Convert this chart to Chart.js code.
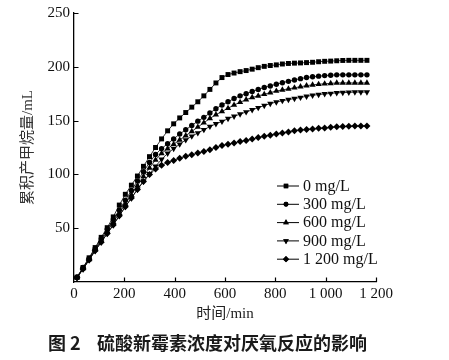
<!DOCTYPE html>
<html>
<head>
<meta charset="utf-8">
<script src="https://cdn.jsdelivr.net/npm/chart.js@4.4.0/dist/chart.umd.min.js"></script>
<style>
  html, body { margin: 0; padding: 0; background: #fff; }
  #wrap { position: relative; width: 449px; height: 360px; }
</style>
</head>
<body>
<div id="wrap"><canvas id="c" width="449" height="360"></canvas></div>
<script>
// ---- data ----
const times = [12,36,60,84,108,132,156,180,204,228,252,276,300,324,348,372,396,420,444,468,492,516,540,564,588,612,636,660,684,708,732,756,780,804,828,852,876,900,924,948,972,996,1020,1044,1068,1092,1116,1140,1164];
const s0 = [4.5,13.5,22.5,32,41.5,50.5,60.5,71.5,81.5,90,98.5,107.5,116.5,125,133,140.5,147,152.5,157.5,162.5,167.5,173,179,185,190,192.8,194.2,195.5,196.5,197.8,199.2,200.4,201.2,201.8,202.6,203.1,203.4,203.6,203.9,204.2,204.7,205.1,205.3,205.6,205.9,206,206,206,206];
const s300 = [4.5,13.5,22,31,40,49,58,67,76,85,94,102.5,111,118.5,124,128.5,133,137.5,141.5,145.5,149.5,153,157,161,164.5,167.5,170.5,173,175,177,179,180.8,182.2,183.8,185.2,186.5,187.8,189,190,190.8,191.3,191.8,192.2,192.5,192.5,192.5,192.5,192.5,192.5];
const s600 = [4,12.5,21,30,38.5,47,55.5,64,72.5,81,89.5,98,106,113.5,119.5,124,128,132,136,140,144,148,152,155.5,158.5,161.5,164.5,167,169.5,171.5,173,174.5,176,177.5,178.5,179.5,180.5,181.5,182.5,183.2,183.8,184.2,184.6,185,185,185,185,185,185];
const s900 = [4,12,20.5,29,37,45,53,61.5,70,78,86,93.5,100.5,107.5,114,119.5,124,128,132,135.5,138.5,141.5,144.5,147,149.2,151.8,154,156,158,160,162,164,165.8,167.2,168.5,169.5,170.5,171.5,172.5,173.5,174.2,174.8,175.2,175.8,176,176.2,176.5,176.5,176.5];
const s1200 = [4,12,20.5,29,37,45,53,61.5,70,78,86,93.5,100,105,108.5,111,113,115,116.8,118.2,119.8,121.2,123,125,126.8,128,129.2,130.5,131.5,132.8,134.2,135.5,136.5,137.5,138.5,139.5,140.5,141.2,141.8,142.2,142.8,143.2,143.8,144.2,144.5,144.8,145,145,145];
const seriesLabels = ['0 mg/L','300 mg/L','600 mg/L','900 mg/L','1 200 mg/L'];
const xTicks = [0,200,400,600,800,1000,1200];
const yTicks = [0,50,100,150,200,250];
const xTitle = '时间/min';
const yTitle = '累积产甲烷量/mL';
const captionNum = '图 2';
const captionText = '硫酸新霉素浓度对厌氧反应的影响';

// ---- styles ----
const serif = "'Liberation Serif','Times New Roman','Noto Sans CJK SC',serif";
const styles = [
  {pointStyle:'rect', radius:3.5, rotation:0},
  {pointStyle:'circle', radius:2.7, rotation:0},
  {pointStyle:'triangle', radius:3.6, rotation:0},
  {pointStyle:'triangle', radius:3.6, rotation:180},
  {pointStyle:'rectRot', radius:3.5, rotation:0}
];
const allSeries = [s0, s300, s600, s900, s1200];
const datasets = allSeries.map((vals, i) => ({
  label: seriesLabels[i],
  data: times.map((t, k) => ({x: t, y: vals[k]})),
  borderColor: '#000',
  backgroundColor: '#000',
  borderWidth: 0.8,
  pointStyle: styles[i].pointStyle,
  pointRadius: styles[i].radius,
  pointRotation: styles[i].rotation,
  pointBackgroundColor: '#000',
  pointBorderWidth: 0,
  tension: 0,
  fill: false
}));

const fmtX = v => v >= 1000 ? String(v).replace(/(\d)(\d{3})$/, '$1 $2') : String(v);

const decor = {
  id: 'decor',
  afterDraw(chart) {
    const ctx = chart.ctx;
    const xs = chart.scales.x, ys = chart.scales.y;
    const ca = chart.chartArea;
    ctx.save();
    // inward tick marks
    ctx.strokeStyle = '#000';
    ctx.lineWidth = 1.2;
    ctx.beginPath();
    xTicks.forEach(v => {
      if (v === 0) return;
      const px = Math.round(xs.getPixelForValue(v)) + 0.5;
      ctx.moveTo(px, ca.bottom); ctx.lineTo(px, ca.bottom - 4.5);
    });
    yTicks.forEach(v => {
      if (v === 0) return;
      const py = Math.round(ys.getPixelForValue(v)) + 0.5;
      ctx.moveTo(ca.left, py); ctx.lineTo(ca.left + 4.5, py);
    });
    ctx.stroke();

    // legend
    const lx0 = 277, lx1 = 299, mx = 286, tx = 303, ly0 = 186, dy = 18.3;
    chart.data.datasets.forEach((ds, i) => {
      const y = ly0 + i * dy;
      ctx.strokeStyle = '#000';
      ctx.lineWidth = 1;
      ctx.beginPath();
      ctx.moveTo(lx0, y); ctx.lineTo(lx1, y);
      ctx.stroke();
      Chart.helpers.drawPoint(ctx, {
        pointStyle: ds.pointStyle, radius: ds.pointRadius * 0.9, rotation: ds.pointRotation,
        borderWidth: 0
      }, mx, y);
      ctx.fillStyle = '#000';
      ctx.fill();
      ctx.fillStyle = '#111';
      ctx.font = "16px " + serif;
      ctx.textAlign = 'left';
      ctx.textBaseline = 'middle';
      ctx.fillText(ds.label, tx, y + 0.5);
    });

    // caption
    ctx.fillStyle = '#1a1a1a';
    ctx.font = "bold 18px 'Noto Sans CJK SC', sans-serif";
    ctx.textBaseline = 'middle';
    ctx.textAlign = 'left';
    ctx.fillText(captionNum, 48, 343);
    ctx.fillText(captionText, 97, 343);
    ctx.restore();
  }
};

new Chart(document.getElementById('c'), {
  type: 'line',
  data: { datasets },
  options: {
    responsive: false,
    animation: false,
    devicePixelRatio: 1,
    layout: { padding: { top: 10, right: 73, bottom: 30, left: 0 } },
    plugins: { legend: { display: false }, tooltip: { enabled: false } },
    elements: { line: { borderWidth: 0.8 } },
    scales: {
      x: {
        type: 'linear', min: 0, max: 1200,
        afterBuildTicks: s => { s.ticks = xTicks.map(v => ({value: v})); },
        afterFit: s => { s.height = 48; },
        grid: { display: false, drawTicks: false },
        border: { display: true, color: '#000', width: 1.3 },
        ticks: { color: '#111', padding: 3, maxRotation: 0, autoSkip: false,
                 font: { family: serif, size: 15 }, callback: v => fmtX(v) },
        title: { display: true, text: xTitle, color: '#222',
                 font: { family: serif, size: 15 }, padding: { top: 0, bottom: 7 } }
      },
      y: {
        type: 'linear', min: 0, max: 250,
        afterBuildTicks: s => { s.ticks = yTicks.map(v => ({value: v})); },
        afterFit: s => { s.width = 74; },
        grid: { display: false, drawTicks: false },
        border: { display: true, color: '#000', width: 1.3 },
        ticks: { color: '#111', padding: 4, autoSkip: false,
                 font: { family: serif, size: 15 }, callback: v => v === 0 ? '' : String(v) },
        title: { display: true, text: yTitle, color: '#333',
                 font: { family: serif, size: 15 }, padding: { top: 19, bottom: 0 } }
      }
    }
  },
  plugins: [decor]
});
</script>
</body>
</html>
